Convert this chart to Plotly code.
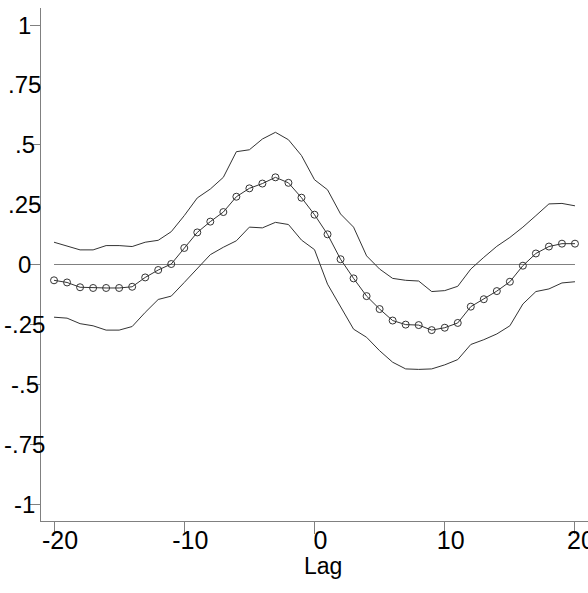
import plotly.graph_objects as go

lags = list(range(-20, 21))
ccf = [-0.066, -0.075, -0.095, -0.098, -0.098, -0.098, -0.093, -0.054, -0.023, 0.002,
       0.069, 0.134, 0.179, 0.219, 0.283, 0.318, 0.338, 0.364, 0.341, 0.279,
       0.208, 0.126, 0.022, -0.058, -0.132, -0.186, -0.234, -0.251, -0.253, -0.274,
       -0.264, -0.244, -0.176, -0.145, -0.111, -0.072, -0.005, 0.046, 0.075, 0.087,
       0.087]
upper = [0.093, 0.076, 0.061, 0.061, 0.079, 0.079, 0.075, 0.093, 0.101, 0.137,
         0.204, 0.278, 0.315, 0.364, 0.471, 0.479, 0.524, 0.552, 0.521, 0.455,
         0.354, 0.312, 0.211, 0.156, 0.036, -0.019, -0.058, -0.066, -0.069, -0.113,
         -0.109, -0.091, -0.019, 0.030, 0.076, 0.113, 0.156, 0.204, 0.253, 0.255,
         0.245]
lower = [-0.220, -0.224, -0.247, -0.256, -0.274, -0.274, -0.259, -0.200, -0.146, -0.132,
         -0.075, -0.016, 0.041, 0.072, 0.099, 0.156, 0.153, 0.176, 0.167, 0.102,
         0.062, -0.082, -0.175, -0.270, -0.304, -0.360, -0.408, -0.436, -0.438, -0.436,
         -0.419, -0.397, -0.334, -0.314, -0.290, -0.256, -0.165, -0.113, -0.102, -0.077,
         -0.072]
x_ticks = [-20, -10, 0, 10, 20]
x_tick_labels = ["-20", "-10", "0", "10", "20"]
y_ticks = [1, 0.75, 0.5, 0.25, 0, -0.25, -0.5, -0.75, -1]
y_tick_labels = ["1", ".75", ".5", ".25", "0", "-.25", "-.5", "-.75", "-1"]
x_title = "Lag"

FONT = "Liberation Sans, Arial, sans-serif"
LINE = "#333333"

fig = go.Figure()
fig.add_trace(go.Scatter(x=lags, y=upper, mode="lines",
                         line=dict(color=LINE, width=1), showlegend=False))
fig.add_trace(go.Scatter(x=lags, y=lower, mode="lines",
                         line=dict(color=LINE, width=1), showlegend=False))
fig.add_trace(go.Scatter(x=lags, y=ccf, mode="lines+markers",
                         line=dict(color=LINE, width=1),
                         marker=dict(symbol="circle-open", size=7,
                                     line=dict(color=LINE, width=1)),
                         showlegend=False))

fig.add_shape(type="line", xref="x", yref="y", x0=lags[0], x1=lags[-1], y0=0, y1=0,
              line=dict(color="#808080", width=1.2), layer="below")

for v, t in zip(y_ticks, y_tick_labels):
    fig.add_annotation(text=t, xref="paper", yref="y", x=-0.03, y=v,
                       xanchor="center", yanchor="middle", showarrow=False,
                       font=dict(family=FONT, size=24, color="black"))

fig.add_annotation(text=x_title, xref="paper", yref="paper", x=0.5155, y=-0.088,
                   xanchor="center", yanchor="middle", showarrow=False,
                   font=dict(family=FONT, size=23, color="black"))

fig.update_layout(
    width=588, height=593,
    margin=dict(l=41, r=0, t=8, b=72, autoexpand=False),
    paper_bgcolor="white", plot_bgcolor="white",
    font=dict(family=FONT, color="black"),
    xaxis=dict(range=[-21, 21], tickvals=x_ticks, ticktext=x_tick_labels,
               ticks="outside", ticklen=12, tickcolor="#808080", tickwidth=1,
               showline=True, linecolor="#808080", linewidth=1,
               showgrid=False, zeroline=False, automargin=False,
               tickfont=dict(family=FONT, size=25, color="black"),
               ticklabelshift=6, ticklabelstandoff=-15,
               ticklabeloverflow="allow"),
    yaxis=dict(range=[-1.071, 1.071], tickvals=y_ticks,
               ticks="outside", ticklen=10, tickcolor="#808080", tickwidth=1,
               showline=True, linecolor="#808080", linewidth=1,
               showgrid=False, zeroline=False, showticklabels=False,
               automargin=False),
)

fig.write_html("out.html")
